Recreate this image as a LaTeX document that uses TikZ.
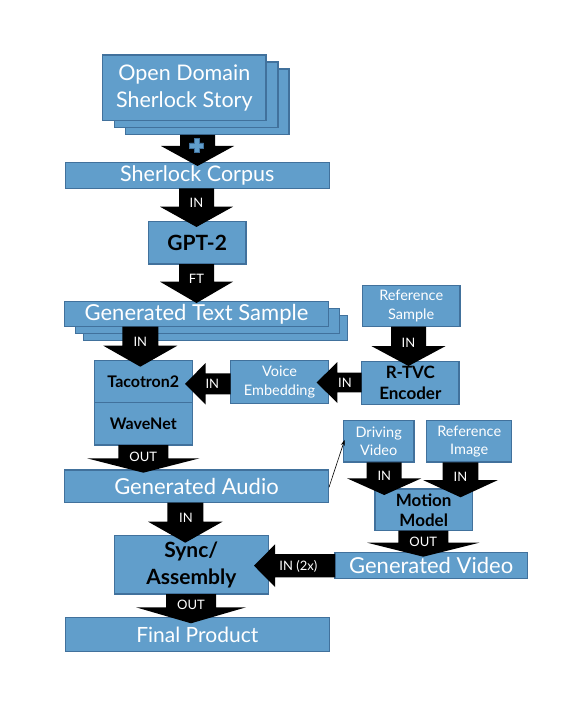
\documentclass[tikz,border=0pt]{standalone}
\usepackage{fontspec}
\setmainfont{Lato}
\usetikzlibrary{arrows.meta}
\definecolor{boxfill}{RGB}{97,158,203}
\definecolor{boxline}{RGB}{65,113,156}
\tikzset{
  box/.style={draw=boxline, fill=boxfill, line width=1.4pt, inner sep=0pt, anchor=center},
  wtxt/.style={text=white, align=center},
  btxt/.style={text=black, align=center, font=\bfseries},
  blk/.style={fill=black},
  albl/.style={text=white, font=\fontsize{13}{15}\selectfont, inner sep=0pt},
}
% down block arrow: cx, top, shaft half, head half, head top, tip
\newcommand\dnarr[6]{\fill[blk] (#1-#3,#2) -- (#1+#3,#2) -- (#1+#3,#5) -- (#1+#4,#5) -- (#1,#6) -- (#1-#4,#5) -- (#1-#3,#5) -- cycle;}
% left block arrow: cy, right x, shaft half, head half, head base x, tip x
\newcommand\ltarr[6]{\fill[blk] (#2,#1-#3) -- (#2,#1+#3) -- (#5,#1+#3) -- (#5,#1+#4) -- (#6,#1) -- (#5,#1-#4) -- (#5,#1-#3) -- cycle;}
\begin{document}
\begin{tikzpicture}[x=1pt,y=-1pt]
\useasboundingbox[fill=white] (0,0) rectangle (583,714);
% Open Domain stack
\node[box, minimum width=163.3pt, minimum height=65.7pt] (stackc) at (207.3,101.8) {};
\node[box, minimum width=163.3pt, minimum height=65.7pt] (stackb) at (196.3,94.8) {};
\node[box, wtxt, minimum width=163.3pt, minimum height=65.7pt, font=\fontsize{21.5}{27}\selectfont] (stack) at (184.3,87.8) {Open Domain\\Sherlock Story};
% corpus
\node[box, wtxt, minimum width=264pt, minimum height=25.6pt, font=\fontsize{21.5}{24}\selectfont] (corpus) at (197.3,175.5) {Sherlock Corpus};
% GPT-2
\node[box, btxt, minimum width=97.7pt, minimum height=42.3pt, font=\fontsize{21}{24}\selectfont\bfseries] (gpt) at (197.2,242.8) {GPT-2};
% generated text stack
\node[box, minimum width=263.6pt, minimum height=25pt] (textc) at (215.5,328.2) {};
\node[box, minimum width=263.6pt, minimum height=25pt] (textb) at (207.5,321.2) {};
\node[box, wtxt, minimum width=263.6pt, minimum height=25pt, font=\fontsize{22}{24}\selectfont] (text) at (196.5,314.2) {Generated Text Sample};
% reference sample
\node[box, wtxt, minimum width=97.7pt, minimum height=41pt, font=\fontsize{14.5}{19}\selectfont] (refs) at (411.2,306.2) {Reference\\Sample};
% tacotron / wavenet
\node[box, btxt, minimum width=98pt, minimum height=42pt, font=\fontsize{16}{19}\selectfont\bfseries] (taco) at (143.3,381.7) {Tacotron2};
\node[box, btxt, minimum width=98pt, minimum height=42.3pt, font=\fontsize{16}{19}\selectfont\bfseries] (wave) at (143.3,423.8) {WaveNet};
% voice embedding
\node[box, wtxt, minimum width=97.6pt, minimum height=42.6pt, font=\fontsize{14.5}{19}\selectfont] (voice) at (279.5,382) {Voice\\Embedding};
% R-TVC encoder
\node[box, btxt, minimum width=97.3pt, minimum height=42.6pt, font=\fontsize{17}{21}\selectfont\bfseries] (rtvc) at (410.3,383) {R-TVC\\Encoder};
% generated audio
\node[box, wtxt, minimum width=263.6pt, minimum height=32.7pt, font=\fontsize{22}{24}\selectfont] (audio) at (196.5,486.3) {Generated Audio};
% driving video / reference image
\node[box, wtxt, minimum width=70.7pt, minimum height=41.3pt, font=\fontsize{14.5}{18.5}\selectfont] (drive) at (378.7,441.3) {Driving\\Video};
\node[box, wtxt, minimum width=85pt, minimum height=41.3pt, font=\fontsize{14.5}{18.5}\selectfont] (refi) at (469.2,441.3) {Reference\\Image};
% motion model
\node[box, btxt, minimum width=97.3pt, minimum height=41.7pt, font=\fontsize{17}{20}\selectfont\bfseries] (motion) at (423.7,509.8) {Motion\\Model};
% generated video
\node[box, wtxt, minimum width=192.3pt, minimum height=25.6pt, font=\fontsize{22}{24}\selectfont] (video) at (431.2,565.5) {Generated Video};
% sync / assembly
\node[box, btxt, minimum width=154pt, minimum height=58.3pt, font=\fontsize{21}{27}\selectfont\bfseries] (sync) at (191.3,564.8) {Sync/\\Assembly};
% final product
\node[box, wtxt, minimum width=264pt, minimum height=34.4pt, font=\fontsize{21}{24}\selectfont] (final) at (197.3,634.5) {Final Product};

% block arrows
\dnarr{197.5}{135}{17.5}{36.5}{146}{166}
\fill[boxfill, draw=boxline, line width=0.8pt] (194.2,138.5) -- (199.2,138.5) -- (199.2,143) -- (203.7,143) -- (203.7,148) -- (199.2,148) -- (199.2,152.5) -- (194.2,152.5) -- (194.2,148) -- (189.7,148) -- (189.7,143) -- (194.2,143) -- cycle;
\dnarr{196.5}{188.3}{17.5}{36.5}{206.7}{227}
\node[albl] (l1) at (196.5,203) {IN};
\dnarr{196.5}{264}{17.5}{36.5}{281.7}{303}
\node[albl] (l2) at (196.5,279.3) {FT};
\dnarr{140.3}{326.7}{18}{37}{345.7}{366.7}
\node[albl] (l3) at (140.3,341.7) {IN};
\dnarr{408.5}{326.7}{17.5}{37.2}{346}{366}
\node[albl] (l4) at (408.5,342.7) {IN};
\ltarr{383.8}{230.7}{10.5}{20.8}{205.7}{185}
\node[albl] (l5) at (212.3,384) {IN};
\ltarr{382.5}{361.7}{9.8}{20.5}{337.3}{316.7}
\node[albl] (l6) at (345,382.7) {IN};
\dnarr{143.3}{445}{25}{56.3}{458.3}{472.7}
\node[albl] (l7) at (143.3,456.7) {OUT};
\dnarr{384.2}{462.3}{17.5}{37.2}{478.3}{495}
\node[albl] (l8) at (384.3,476) {IN};
\dnarr{460.5}{462.3}{17.8}{37.5}{480}{497.3}
\node[albl] (l9) at (460.5,476.7) {IN};
\dnarr{185.3}{502.7}{18}{37.2}{521.7}{542.7}
\node[albl] (l10) at (186,518.3) {IN};
\dnarr{423.3}{530.7}{25}{56}{542.7}{556.7}
\node[albl] (l11) at (423.3,541.7) {OUT};
\ltarr{565.7}{335}{11.7}{21.3}{275}{254}
\node[albl] (l12) at (298.3,566.7) {IN (2x)};
\dnarr{191}{594}{25}{55}{607.3}{623.3}
\node[albl] (l13) at (191,605) {OUT};
% thin arrow
\draw[-{Stealth[length=6pt,width=4pt]}, line width=0.6pt] ([yshift=-1pt]audio.east) -- ([xshift=2pt,yshift=1.5pt]drive.west);
\end{tikzpicture}
\end{document}
